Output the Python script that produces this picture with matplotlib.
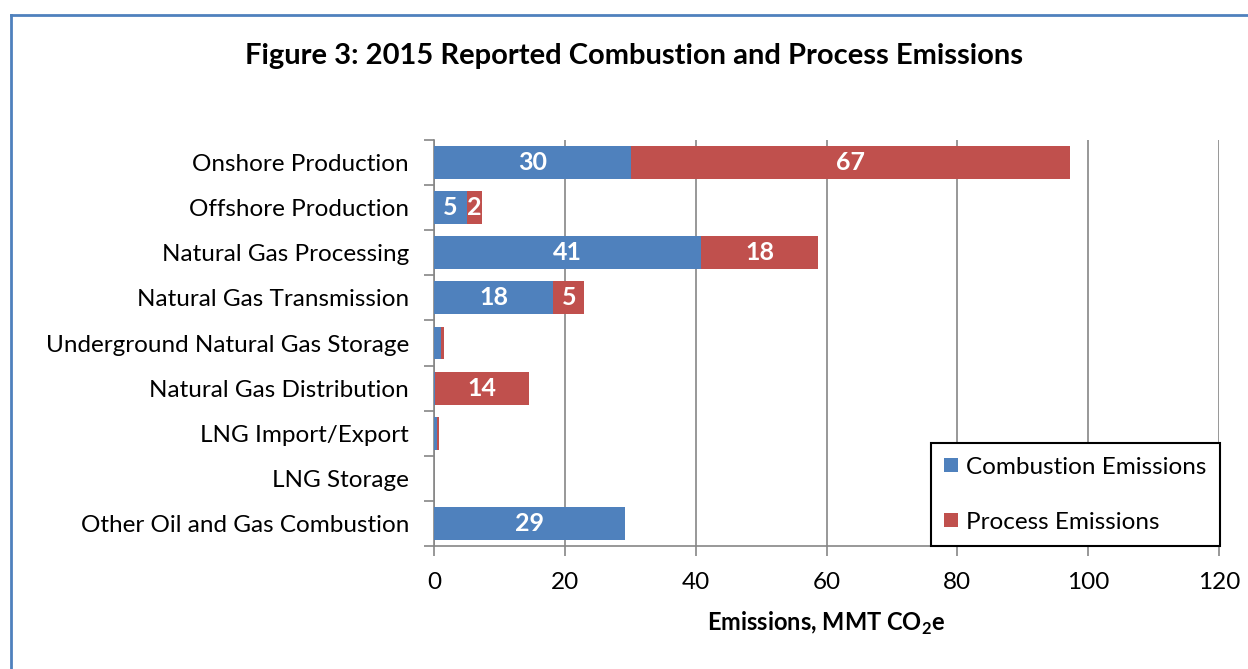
import numpy as np
import matplotlib.pyplot as plt
from matplotlib.lines import Line2D

# %% Data ---------------------------------------------------------------------

categories = ['Onshore Production', 'Offshore Production',
              'Natural Gas Processing', 'Natural Gas Transmission',
              'Underground Natural Gas Storage', 'Natural Gas Distribution',
              'LNG Import/Export', 'LNG Storage',
              'Other Oil and Gas Combustion']
combustion = [30.1, 5.0, 40.8, 18.2, 1.0, 0.1, 0.4, 0.0, 29.2]
process = [67.1, 2.3, 17.9, 4.8, 0.6, 14.4, 0.3, 0.0, 0.0]
combustion_labels = ['30', '5', '41', '18', '', '', '', '', '29']
process_labels = ['67', '2', '18', '5', '', '14', '', '', '']

blue = '#4f81bd'
red = '#c0504d'
grey = '#868686'

plt.rcParams['font.family'] = ['Lato', 'DejaVu Sans']

# %% Plot ---------------------------------------------------------------------

fig = plt.figure(figsize=(12.48, 6.69), dpi=100)
ax = fig.add_axes([434 / 1248, 1 - 546 / 669, 785 / 1248, 406 / 669])

y = np.arange(len(categories))
b1 = ax.barh(y, combustion, height=0.73, color=blue, label='Combustion Emissions',
             zorder=3)
b2 = ax.barh(y, process, left=combustion, height=0.73, color=red,
             label='Process Emissions', zorder=3)
ax.bar_label(b1, labels=combustion_labels, label_type='center', color='white',
             fontsize=18, fontweight='bold')
ax.bar_label(b2, labels=process_labels, label_type='center', color='white',
             fontsize=18, fontweight='bold')

ax.set_ylim(len(categories) - 0.5, -0.5)
ax.set_yticks(y)
ax.set_yticklabels(categories, fontsize=17.5)
ax.set_yticks(np.arange(-0.5, len(categories)), minor=True)
ax.tick_params(axis='y', which='major', length=0, pad=18)
ax.tick_params(axis='y', which='minor', length=7, color=grey, width=1.2)

ax.set_xlim(0, 120)
ax.set_xticks(np.arange(0, 121, 20))
ax.tick_params(axis='x', labelsize=17.5, length=7, color=grey, width=1.2, pad=12)
ax.grid(axis='x', color=grey, linewidth=1.2, zorder=0)

for s in ['top', 'right']:
    ax.spines[s].set_visible(False)
for s in ['left', 'bottom']:
    ax.spines[s].set_color(grey)
    ax.spines[s].set_linewidth(1.2)
ax.spines['bottom'].set_zorder(1)

ax.set_xlabel('Emissions, MMT CO$_\\mathregular{2}$e', fontsize=17,
              fontweight='bold', labelpad=12)

leg = ax.legend(loc='lower right', bbox_to_anchor=(1.001, 0.0), fontsize=17.5,
                frameon=True, fancybox=False, edgecolor='black', framealpha=1,
                handlelength=0.55, handleheight=0.55, handletextpad=0.35,
                labelspacing=1.4, borderpad=0.55, borderaxespad=0)
leg.get_frame().set_linewidth(1.5)

fig.text(634 / 1248, 1 - 56 / 669,
         'Figure 3: 2015 Reported Combustion and Process Emissions',
         ha='center', va='center', fontsize=21, fontweight='bold')

# outer border (top and left)
fig.add_artist(Line2D([11 / 1248, 11 / 1248], [0, 1 - 15 / 669],
                      color=blue, linewidth=2, transform=fig.transFigure))
fig.add_artist(Line2D([11 / 1248, 1], [1 - 15 / 669, 1 - 15 / 669],
                      color=blue, linewidth=2, transform=fig.transFigure))

fig.savefig('out.png', dpi=100)
